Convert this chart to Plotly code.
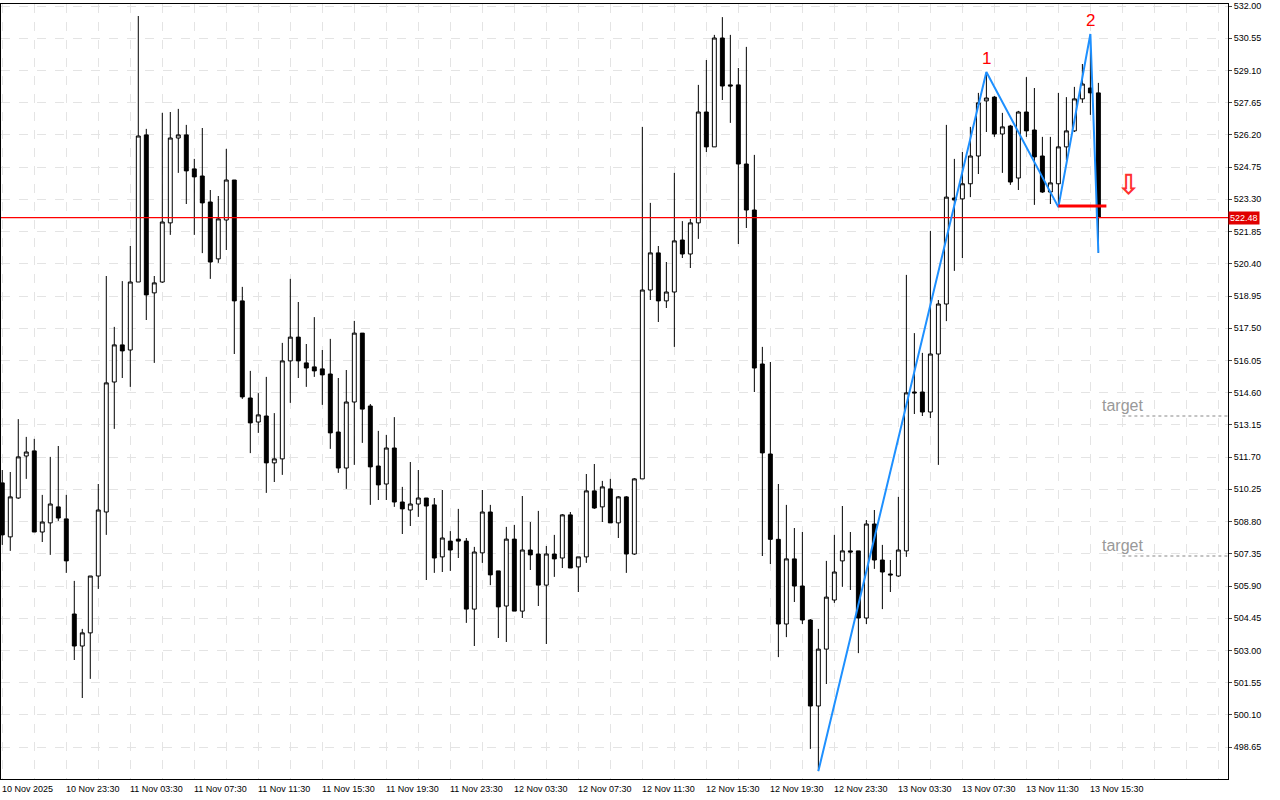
import plotly.graph_objects as go

opens = [510.54, 508.11, 509.86, 511.75, 511.98, 508.33, 508.74, 509.46, 508.92, 504.64,
         503.2, 503.79, 506.35, 509.23, 515.08, 516.75, 516.52, 519.58, 526.2, 519.09,
         519.58, 522.24, 526.06, 526.2, 524.67, 524.35, 523.18, 520.62, 522.37, 524.17,
         518.73, 514.36, 513.28, 513.55, 511.44, 511.62, 516.03, 517.1, 515.94, 515.76,
         515.67, 515.44, 512.83, 511.21, 514.18, 517.28, 514.0, 511.3, 510.49, 512.11,
         509.68, 509.32, 509.59, 509.86, 509.55, 507.21, 507.92, 508.01, 507.92, 504.86,
         507.39, 509.23, 506.58, 505.0, 508.01, 504.77, 507.52, 507.34, 505.94, 507.34,
         507.16, 509.1, 506.76, 507.21, 510.18, 509.46, 510.27, 508.74, 509.91, 507.34,
         510.72, 519.22, 520.89, 518.73, 519.13, 521.47, 520.84, 522.24, 527.23, 525.66,
         530.56, 528.45, 528.45, 524.89, 522.82, 515.89, 511.84, 508.0, 504.19, 507.12,
         505.9, 504.37, 500.5, 503.06, 505.27, 507.03, 507.48, 507.48, 504.46, 508.69,
         507.07, 506.44, 506.35, 507.48, 514.63, 514.63, 513.73, 516.34, 518.59, 523.36,
         523.32, 524.0, 525.25, 527.73, 527.9, 526.24, 526.6, 524.26, 527.23, 526.42,
         525.25, 523.63, 524.0, 525.66, 526.38, 527.82, 528.31, 528.09]
highs = [511.12, 511.03, 513.41, 512.61, 512.52, 510.0, 511.71, 512.2, 510.0, 506.13,
         503.97, 506.35, 510.49, 519.85, 517.56, 519.62, 521.2, 531.55, 526.47, 519.85,
         527.19, 527.23, 527.37, 526.65, 525.12, 526.51, 523.72, 523.45, 525.57, 524.17,
         519.36, 515.58, 514.58, 515.31, 513.68, 516.84, 519.72, 518.68, 516.79, 518.0,
         516.52, 517.02, 515.26, 515.62, 517.83, 517.28, 514.09, 512.88, 512.7, 513.5,
         510.36, 511.48, 511.12, 509.86, 509.86, 510.22, 508.37, 509.37, 508.06, 507.66,
         510.22, 509.55, 506.58, 508.56, 508.65, 509.95, 508.78, 509.28, 507.7, 508.2,
         509.14, 509.23, 507.21, 510.94, 511.39, 510.63, 510.72, 509.95, 509.95, 510.76,
         526.56, 523.14, 521.2, 520.48, 524.49, 522.32, 522.42, 528.45, 529.57, 530.7,
         531.5, 530.7, 529.21, 530.16, 525.3, 516.66, 515.98, 510.49, 509.55, 508.51,
         508.33, 504.41, 503.97, 507.03, 508.2, 509.5, 508.33, 507.48, 508.87, 509.32,
         507.75, 507.07, 509.91, 519.9, 517.28, 516.39, 521.88, 518.77, 526.65, 525.12,
         525.43, 526.56, 528.09, 529.03, 527.95, 527.19, 526.65, 527.28, 528.8, 528.31,
         526.11, 526.11, 528.09, 527.9, 528.36, 529.39, 530.74, 528.54]
lows = [507.75, 507.48, 509.82, 510.72, 508.33, 507.88, 507.3, 508.83, 506.49, 502.57,
        500.86, 501.72, 505.77, 508.2, 512.97, 515.26, 514.86, 519.58, 517.87, 515.94,
        519.54, 521.7, 524.49, 523.09, 521.7, 520.88, 519.72, 520.44, 521.02, 516.34,
        514.32, 511.88, 512.79, 510.09, 510.58, 510.9, 514.14, 515.26, 514.86, 515.31,
        514.05, 512.07, 510.99, 510.27, 511.35, 512.34, 509.55, 509.77, 509.77, 509.46,
        508.24, 508.6, 509.01, 506.17, 506.49, 506.53, 506.58, 507.16, 504.24, 503.2,
        506.94, 505.94, 503.56, 503.38, 504.77, 504.46, 506.62, 505.0, 503.29, 506.31,
        506.71, 506.71, 505.63, 506.94, 509.37, 508.78, 508.74, 508.06, 506.49, 507.3,
        510.72, 518.77, 517.78, 518.41, 516.66, 520.66, 520.21, 521.52, 525.43, 525.66,
        527.77, 526.74, 521.29, 522.01, 514.63, 507.25, 506.89, 502.7, 503.6, 505.18,
        504.19, 498.57, 497.57, 501.49, 505.14, 505.86, 505.72, 502.88, 504.19, 506.67,
        504.86, 505.63, 506.31, 507.21, 513.64, 513.55, 513.46, 511.35, 517.82, 520.08,
        520.66, 523.4, 524.44, 526.33, 526.11, 524.49, 523.95, 523.72, 526.11, 523.05,
        523.59, 523.09, 522.95, 525.07, 526.33, 527.64, 527.1, 520.89]
closes = [508.2, 509.91, 511.71, 511.93, 508.33, 508.78, 509.59, 508.96, 507.03, 503.2,
          503.79, 506.35, 509.32, 515.04, 516.75, 516.48, 519.58, 526.15, 519.0, 519.54,
          522.28, 526.06, 526.2, 524.58, 524.31, 523.14, 520.48, 522.42, 524.17, 518.73,
          514.41, 513.24, 513.6, 511.44, 511.62, 516.03, 517.1, 516.03, 515.71, 515.58,
          515.4, 512.79, 511.21, 514.18, 517.28, 513.86, 511.26, 510.45, 512.11, 509.68,
          509.37, 509.59, 509.86, 509.5, 507.16, 508.06, 507.52, 507.92, 504.86, 507.43,
          509.23, 506.4, 504.96, 508.01, 504.77, 507.52, 507.3, 505.94, 507.34, 507.12,
          509.1, 506.71, 507.21, 510.18, 509.41, 510.36, 508.74, 509.91, 507.34, 510.72,
          519.22, 520.89, 518.73, 519.13, 521.43, 520.84, 522.24, 527.23, 525.66, 530.56,
          528.4, 528.4, 524.89, 522.82, 515.71, 511.89, 508.0, 504.19, 507.12, 505.9,
          504.37, 500.5, 503.06, 505.4, 506.53, 507.48, 507.43, 504.46, 508.69, 507.07,
          506.53, 506.4, 507.52, 514.59, 514.59, 513.73, 516.34, 518.59, 523.4, 523.27,
          524.0, 525.25, 527.64, 527.86, 526.24, 526.56, 524.08, 527.23, 526.38, 525.21,
          523.63, 524.04, 525.66, 526.38, 527.82, 528.49, 528.09, 522.48]

time_labels = ["10 Nov 2025", "10 Nov 23:30", "11 Nov 03:30", "11 Nov 07:30", "11 Nov 11:30",
               "11 Nov 15:30", "11 Nov 19:30", "11 Nov 23:30", "12 Nov 03:30", "12 Nov 07:30",
               "12 Nov 11:30", "12 Nov 15:30", "12 Nov 19:30", "12 Nov 23:30", "13 Nov 03:30",
               "13 Nov 07:30", "13 Nov 11:30", "13 Nov 15:30"]

price_ticks = [532.00, 530.55, 529.10, 527.65, 526.20, 524.75, 523.30, 521.85, 520.40, 518.95,
               517.50, 516.05, 514.60, 513.15, 511.70, 510.25, 508.80, 507.35, 505.90, 504.45,
               503.00, 501.55, 500.10, 498.65]

zigzag_bars = [102, 123, 132, 136, 137]
zigzag_prices = [497.57, 529.03, 522.95, 530.74, 520.89]
pivot_labels = {123: "1", 136: "2"}

last_price = 522.48
neckline = 523.0
targets = [513.55, 507.25]

x = list(range(len(opens)))

fig = go.Figure()
# current price line, under the candles
fig.add_trace(go.Scatter(
    x=[-1, 160], y=[last_price, last_price], mode="lines",
    line=dict(color="#ff0000", width=1.3), showlegend=False, hoverinfo="skip",
))
fig.add_trace(go.Candlestick(
    x=x, open=opens, high=highs, low=lows, close=closes,
    increasing=dict(line=dict(color="black", width=1), fillcolor="white"),
    decreasing=dict(line=dict(color="black", width=1), fillcolor="black"),
    whiskerwidth=0, showlegend=False, hoverinfo="skip",
))
fig.add_trace(go.Scatter(
    x=zigzag_bars, y=zigzag_prices, mode="lines",
    line=dict(color="#1e90ff", width=2), showlegend=False, hoverinfo="skip",
))
fig.add_trace(go.Scatter(
    x=[132, 138], y=[neckline, neckline], mode="lines",
    line=dict(color="red", width=3), showlegend=False, hoverinfo="skip",
))
# sell arrow
fig.add_annotation(x=140.8, y=523.99, text="<b>⇩</b>", showarrow=False,
                   font=dict(family="DejaVu Sans", size=28, color="#ff3030"))

for t in targets:
    fig.add_shape(type="line", xref="x", yref="y", x0=140, x1=153.2, y0=t, y1=t,
                  line=dict(color="#888888", width=1, dash="dot"))
    fig.add_annotation(x=137.2, y=t, text="target", showarrow=False, xanchor="left",
                       yanchor="bottom", font=dict(family="Liberation Sans", size=16, color="#999999"))

for bar, lab in pivot_labels.items():
    fig.add_annotation(x=bar, y=zigzag_prices[zigzag_bars.index(bar)], text=lab, showarrow=False,
                       yanchor="bottom", yshift=2, font=dict(family="Liberation Sans", size=17, color="red"))

for k, lab in enumerate(time_labels):
    fig.add_annotation(x=k * 8, y=0, xref="x", yref="paper", text=lab, showarrow=False,
                       xanchor="left", yanchor="top", yshift=-3, xshift=-2,
                       font=dict(family="Liberation Sans", size=9, color="black"))

fig.add_annotation(x=1, y=last_price, xref="paper", yref="y", text=f"{last_price:.2f}",
                   showarrow=False, xanchor="left", bgcolor="#e00000", borderpad=1,
                   font=dict(family="Liberation Sans", size=9, color="white"))

fig.update_layout(
    width=1280, height=800, paper_bgcolor="white", plot_bgcolor="white",
    margin=dict(l=1, r=52, t=4, b=21),
    xaxis=dict(range=[-0.16, 153.2], rangeslider=dict(visible=False),
               tickvals=list(range(0, 154, 4)), showticklabels=False,
               showgrid=True, gridcolor="#e4e4e4", griddash="dash",
               showline=True, linecolor="black", mirror=True, zeroline=False),
    yaxis=dict(range=[497.215, 532.09], side="right", tickvals=price_ticks,
               ticktext=[f"{p:.2f}" for p in price_ticks], ticks="outside", ticklen=3,
               tickfont=dict(family="Liberation Sans", size=9, color="black"),
               showgrid=True, gridcolor="#e4e4e4", griddash="dash",
               showline=True, linecolor="black", mirror=True, zeroline=False),
)

fig.write_html("out.html", config={"displayModeBar": False},
               post_script="document.body.style.margin='0';")
